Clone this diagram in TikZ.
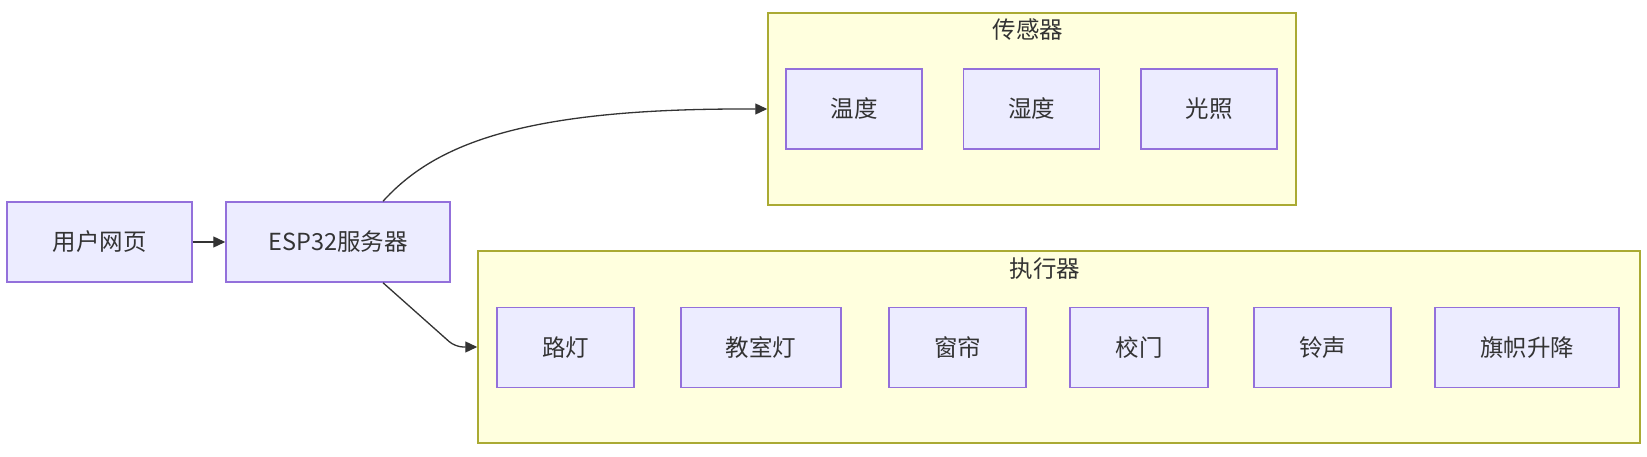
\documentclass[tikz,border=0pt]{standalone}
\usepackage{fontspec}
\setmainfont{Noto Sans CJK SC}
\usepackage{tikz}
\usetikzlibrary{arrows.meta,calc}
\usepackage{xcolor}
\definecolor{nodefill}{HTML}{ECECFF}
\definecolor{nodeline}{HTML}{9370DB}
\definecolor{grpfill}{HTML}{FFFFDE}
\definecolor{grpline}{HTML}{AAAA33}
\definecolor{inkgray}{HTML}{333333}

\begin{document}
\begin{tikzpicture}[x=1pt, y=-1pt,
  box/.style ={draw=nodeline, fill=nodefill, line width=1.5pt,
               minimum width=136pt, minimum height=80pt, inner sep=0pt,
               font=\fontsize{23.5}{28}\selectfont, text=inkgray},
  grp/.style ={draw=grpline, fill=grpfill, line width=1.5pt, inner sep=0pt},
  ttl/.style ={font=\fontsize{23.5}{28}\selectfont, text=inkgray},
  arr/.style ={-{Triangle[length=12pt,width=11pt]}, line width=1.3pt, color=inkgray}
]
  \path[use as bounding box, fill=white] (0,0) rectangle (1647,457);

  %% ── Groups (drawn first, boxes sit on top) ─────────────────────────────
  \node[grp, minimum width=528pt,  minimum height=192pt] (sens) at (1032,109) {};
  \node[grp, minimum width=1162pt, minimum height=192pt] (act)  at (1059,347) {};
  \node[ttl] (senst) at (1028,30)  {传感器};
  \node[ttl] (actt)  at (1045,269) {执行器};

  %% ── Left: page and server ──────────────────────────────────────────────
  \node[box, minimum width=185pt] (web) at (99.5,242) {用户网页};
  \node[box, minimum width=224pt] (esp) at (338,242)  {ESP32服务器};

  %% ── Sensors ────────────────────────────────────────────────────────────
  \node[box] (tmp) at (854,109)    {温度};
  \node[box] (hum) at (1031.5,109) {湿度};
  \node[box] (lux) at (1209,109)   {光照};

  %% ── Actuators ──────────────────────────────────────────────────────────
  \node[box, minimum width=137pt] (sl)   at (565.5,347.5)  {路灯};
  \node[box, minimum width=160pt] (cl)   at (761,347.5)    {教室灯};
  \node[box, minimum width=137pt] (cur)  at (957.5,347.5)  {窗帘};
  \node[box, minimum width=138pt] (gate) at (1139,347.5)   {校门};
  \node[box, minimum width=137pt] (bell) at (1322.5,347.5) {铃声};
  \node[box, minimum width=184pt] (flag) at (1527,347.5)   {旗帜升降};

  %% ── Connectors ─────────────────────────────────────────────────────────
  \draw[arr] (web) -- (esp);
  \draw[arr] ($(esp.north)+(45,0)$)
    .. controls ($(esp.north)+(95,-55)$) and ($(sens.west)+(-250,0)$)
    .. ($(sens.west)+(-25,0)$) -- (sens.west);
  \draw[arr, rounded corners=8pt] ($(esp.south)+(45,0)$)
    -- ($(act.west)+(-22,0)$) -- (act.west);

\end{tikzpicture}
\end{document}
